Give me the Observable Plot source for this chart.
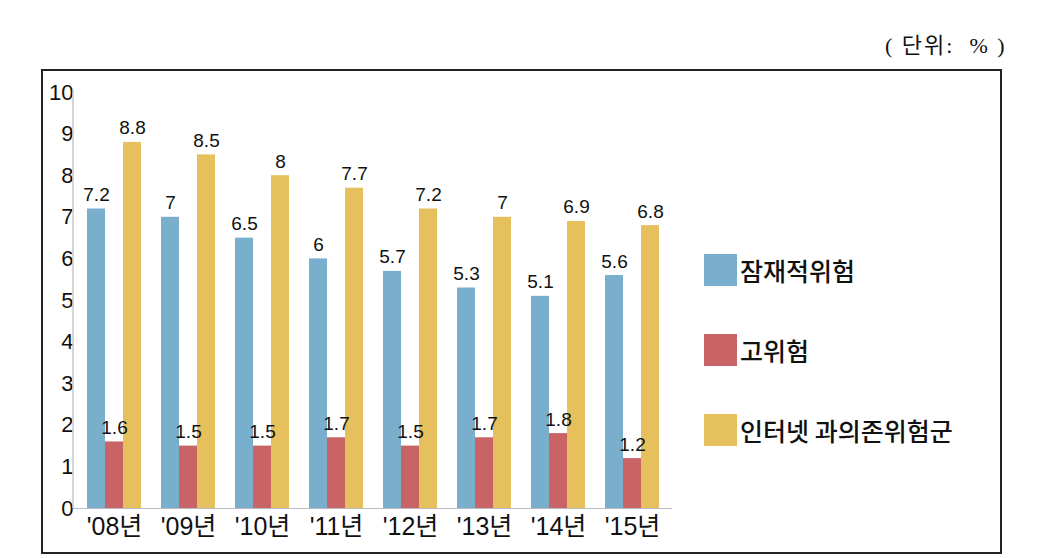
<!DOCTYPE html>
<html>
<head>
<meta charset="utf-8">
<script src="https://cdn.jsdelivr.net/npm/d3@7"></script>
<script src="https://cdn.jsdelivr.net/npm/@observablehq/plot@0.6"></script>
<style>
  html, body { margin: 0; padding: 0; background: #fff; }
  body { width: 1051px; height: 558px; position: relative; overflow: hidden;
         font-family: "Liberation Sans", "Noto Sans CJK KR", sans-serif; }
  #chart { position: absolute; left: 0; top: 0; }
  #unit { position: absolute; left: 885px; top: 27px; font-family: "Liberation Serif", "Noto Sans CJK KR", serif;
          font-size: 22px; color: #111; white-space: pre; letter-spacing: 2px; }
  #box { position: absolute; left: 41px; top: 69px; width: 961px; height: 485px; box-sizing: border-box;
         border: 2px solid #222; pointer-events: none; }
  #legend { position: absolute; left: 704px; top: 0; }
  .row { position: absolute; left: 0; display: flex; align-items: center; white-space: nowrap; }
  .sw { width: 33px; height: 32px; margin-right: 3px; }
  .lbl { font-size: 25px; color: #111; font-family: "Noto Sans CJK KR", sans-serif; font-weight: 500; }
</style>
</head>
<body>
<div id="unit">( 단위:  % )</div>
<div id="chart"></div>
<div id="box"></div>
<div id="legend"></div>
<script>
const years = ["'08년", "'09년", "'10년", "'11년", "'12년", "'13년", "'14년", "'15년"];
const series = ["잠재적위험", "고위험", "인터넷 과의존위험군"];
const potential = [7.2, 7, 6.5, 6, 5.7, 5.3, 5.1, 5.6];
const high = [1.6, 1.5, 1.5, 1.7, 1.5, 1.7, 1.8, 1.2];
const total = [8.8, 8.5, 8, 7.7, 7.2, 7, 6.9, 6.8];
const yTicks = [0, 1, 2, 3, 4, 5, 6, 7, 8, 9, 10];
const colors = ["#79afcd", "#c86465", "#e5c05d"];

const valuesBySeries = [potential, high, total];
const data = [];
years.forEach((yr, i) => {
  series.forEach((s, j) => data.push({year: yr, series: s, value: valuesBySeries[j][i]}));
});

const plot = Plot.plot({
  width: 1051,
  height: 558,
  marginLeft: 73,
  marginRight: 379,
  marginTop: 92,
  marginBottom: 50,
  style: {fontFamily: '"Liberation Sans", "Noto Sans CJK KR", sans-serif', color: "#111", background: "transparent"},
  fx: {domain: years, paddingInner: 0.25, paddingOuter: 0.13, label: null},
  x: {domain: series, padding: 0, axis: null},
  y: {domain: [0, 10], label: null},
  color: {domain: series, range: colors},
  marks: [
    Plot.barY(data, {fx: "year", x: "series", y: "value", fill: "series"}),
    Plot.text(data, {fx: "year", x: "series", y: "value", text: d => String(d.value),
      lineAnchor: "bottom", dy: -8, fontSize: 19, fill: "#111"}),
    Plot.axisY({ticks: yTicks, tickSize: 0, tickPadding: 13, fontSize: 22, label: null}),
    Plot.axisFx({anchor: "bottom", tickSize: 0, tickPadding: 9, fontSize: 25, label: null})
  ]
});

// enforce axis label sizes
const svg = d3.select(plot);
svg.selectAll('g[aria-label="y-axis tick label"]').attr("font-size", 22);
svg.selectAll('g[aria-label="fx-axis tick label"]').attr("font-size", 25);

// axis line and baseline spanning the whole facet range, from the plot's scales
const fxs = plot.scale("fx");
const ys = plot.scale("y");
const x0 = Math.min(...fxs.range), x1 = Math.max(...fxs.range);
const y0 = ys.apply(0), y1 = ys.apply(10);
svg.append("line").attr("x1", x0).attr("x2", x0).attr("y1", y0).attr("y2", y1 - 2)
  .attr("stroke", "#c9c9c9").attr("stroke-width", 1.5);
svg.append("line").attr("x1", x0).attr("x2", x1).attr("y1", y0 + 0.5).attr("y2", y0 + 0.5)
  .attr("stroke", "#b8bcc8").attr("stroke-width", 1.2);

document.getElementById("chart").appendChild(plot);

// legend
const legend = document.getElementById("legend");
const rowTops = [252, 332, 412];
series.forEach((s, i) => {
  const row = document.createElement("div");
  row.className = "row";
  row.style.top = rowTops[i] + "px";
  row.innerHTML = `<div class="sw" style="background:${colors[i]}"></div><span class="lbl">${s}</span>`;
  legend.appendChild(row);
});
</script>
</body>
</html>
